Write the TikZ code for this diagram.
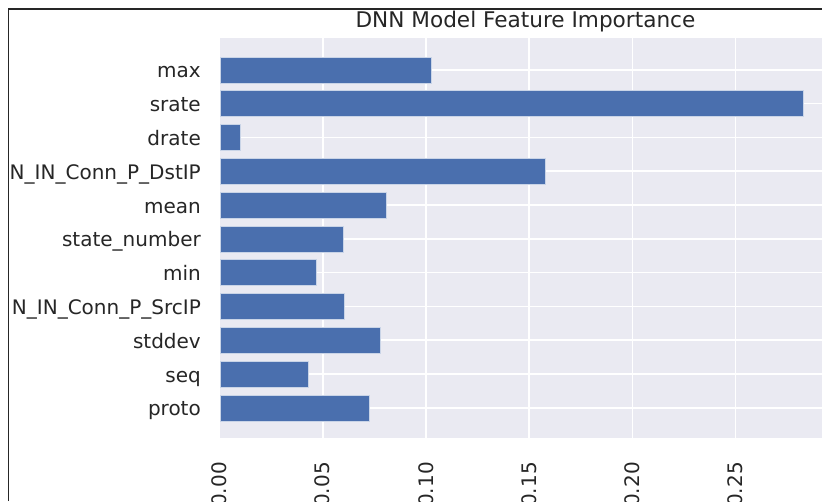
\documentclass[tikz,border=0pt]{standalone}
\usepackage{fontspec}
\setmainfont{DejaVu Sans}
\definecolor{axbg}{HTML}{EAEAF2}
\definecolor{barblue}{HTML}{4A6FAE}
\definecolor{ink}{HTML}{262626}
\begin{document}
\begin{tikzpicture}[x=1pt,y=-1pt,
  ticklab/.style={font=\fontsize{20}{24}\selectfont, text=ink, inner sep=0pt},
  titlelab/.style={font=\fontsize{21.6}{26}\selectfont, text=ink, inner sep=0pt},
  gridline/.style={white, line width=1.6pt},
  barbox/.style={fill=barblue, draw=white!70!barblue, line width=0.6pt},
  frameline/.style={black!85, line width=1.2pt}]
% canvas: 822 x 501, y grows downwards
\useasboundingbox (0,0) rectangle (822,501);
\fill[white] (0,0) rectangle (822,501);
\begin{scope}
  \clip (0,0) rectangle (822,501);
  % axes face
  \fill[axbg] (220,38) rectangle (831,438);
  % vertical grid and rotated x tick labels (0.05 per 103.2 units)
  \foreach \v [count=\k from 0] in {0.00,0.05,0.10,0.15,0.20,0.25} {
    \pgfmathsetmacro{\gx}{219.5+\k*103.2}
    \ifnum\k>0 \draw[gridline] (\gx,38) -- (\gx,438); \fi
    \node[ticklab, rotate=90, anchor=east] (xt\k) at (\gx,462) {\v};
  }
  % horizontal grid, bars and y tick labels
  \foreach \lab/\val [count=\i from 0] in {
      max/0.1025, srate/0.2830, drate/0.0099,
      N\_IN\_Conn\_P\_DstIP/0.1577, mean/0.0806, state\_number/0.0600,
      min/0.0468, N\_IN\_Conn\_P\_SrcIP/0.0603, stddev/0.0778,
      seq/0.0429, proto/0.0724} {
    \pgfmathsetmacro{\yc}{69.8+\i*33.8}
    \pgfmathsetmacro{\xe}{219.5+\val*2064}
    \draw[gridline] (220,\yc) -- (831,\yc);
    \path[barbox] (220,\yc-13) rectangle (\xe,\yc+13);
    \node[ticklab, anchor=base east] (yl\i) at (201,\yc+8) {\lab};
  }
  % title
  \node[titlelab, anchor=base] (title) at (525.5,27) {DNN Model Feature Importance};
  % frame edges
  \draw[frameline] (8.5,501) -- (8.5,9) -- (822,9);
\end{scope}
\end{tikzpicture}
\end{document}
